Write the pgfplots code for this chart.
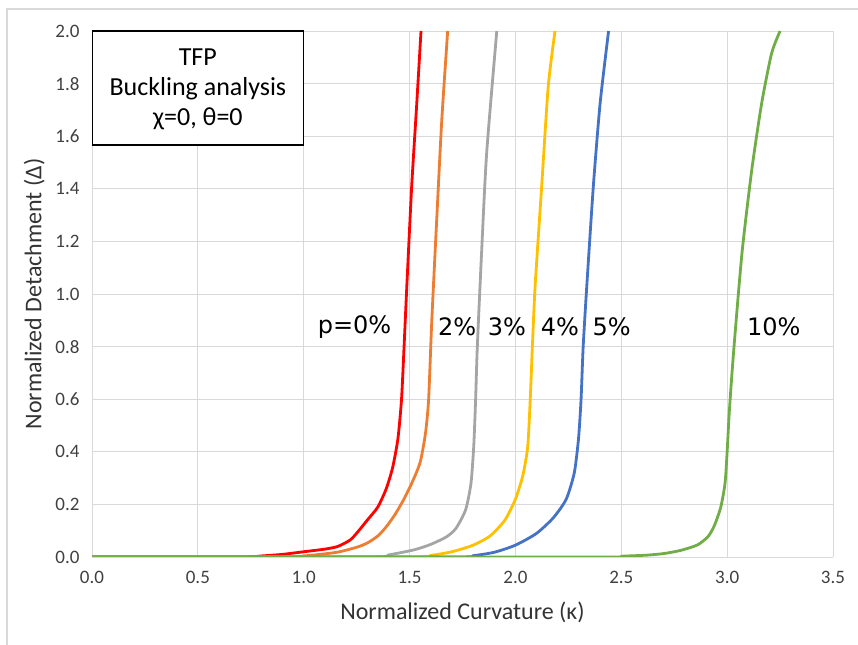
\documentclass[border=0pt]{standalone}
\usepackage{pgfplots}
\pgfplotsset{compat=1.18}
\usepackage{fontspec}
\setmainfont{Carlito}
\newfontfamily\dejavu{DejaVu Sans}
\definecolor{cRed}{HTML}{FF0000}
\definecolor{cOrange}{HTML}{ED7D31}
\definecolor{cGray}{HTML}{A5A5A5}
\definecolor{cYellow}{HTML}{FFC000}
\definecolor{cBlue}{HTML}{4472C4}
\definecolor{cGreen}{HTML}{70AD47}
\definecolor{gridc}{HTML}{D9D9D9}
\begin{document}
\begin{tikzpicture}
\useasboundingbox (0,0) rectangle (858bp,645bp);
\draw[gridc, line width=1.2bp] (7bp,0) -- (7bp,636bp) -- (858bp,636bp);
\begin{axis}[
  at={(92bp,88bp)}, anchor=south west,
  scale only axis, width=741bp, height=526bp,
  xmin=0, xmax=3.5, ymin=0, ymax=2,
  grid=major, grid style={gridc, line width=0.9bp},
  axis x line*=bottom, axis y line*=left,
  x axis line style={gridc, line width=0.9bp, -},
  y axis line style={draw=none, -},
  major tick length=0pt,
  tick label style={font=\fontsize{19bp}{21bp}\selectfont, text=black!75},
  ytick={0,0.2,0.4,0.6,0.8,1.0,1.2,1.4,1.6,1.8,2.0},
  yticklabels={0.0,0.2,0.4,0.6,0.8,1.0,1.2,1.4,1.6,1.8,2.0},
  xtick={0,0.5,1.0,1.5,2.0,2.5,3.0,3.5},
  xticklabels={0.0,0.5,1.0,1.5,2.0,2.5,3.0,3.5},
  xticklabel style={yshift=-11bp},
  yticklabel style={xshift=-9bp},
  xlabel={Normalized Curvature (κ)},
  ylabel={Normalized Detachment (Δ)},
  label style={font=\fontsize{24bp}{28bp}\selectfont, text=black!80},
  xlabel style={yshift=-11bp},
  ylabel style={yshift=4bp},
  clip=true,
  every axis plot/.append style={line width=2.8bp, line join=round, smooth, tension=0.4},
]
\addplot[cRed] coordinates {(0,0) (0.7,0) (0.8,0.004) (0.9,0.01) (1.0,0.02) (1.1,0.03) (1.16,0.04) (1.22,0.065) (1.26,0.1) (1.3,0.14) (1.35,0.19) (1.39,0.26) (1.42,0.34) (1.445,0.45) (1.462,0.6) (1.474,0.8) (1.487,1.03) (1.51,1.41) (1.534,1.725) (1.554,2.0)};
\addplot[cOrange] coordinates {(0,0) (0.9,0) (1.0,0.004) (1.1,0.012) (1.17,0.02) (1.25,0.037) (1.3,0.053) (1.35,0.08) (1.39,0.115) (1.43,0.16) (1.47,0.215) (1.51,0.28) (1.55,0.36) (1.575,0.47) (1.59,0.6) (1.605,0.9) (1.628,1.28) (1.652,1.66) (1.68,2.0)};
\addplot[cGray] coordinates {(0,0) (1.3,0) (1.4,0.008) (1.52,0.027) (1.6,0.048) (1.675,0.077) (1.72,0.11) (1.765,0.18) (1.79,0.28) (1.803,0.42) (1.812,0.6) (1.82,0.8) (1.84,1.155) (1.864,1.535) (1.912,2.0)};
\addplot[cYellow] coordinates {(0,0) (1.5,0) (1.6,0.006) (1.7,0.02) (1.8,0.045) (1.88,0.08) (1.95,0.14) (2.0,0.22) (2.035,0.31) (2.058,0.42) (2.07,0.6) (2.08,0.8) (2.093,1.03) (2.124,1.41) (2.155,1.79) (2.187,2.0)};
\addplot[cBlue] coordinates {(0,0) (1.7,0) (1.8,0.005) (1.9,0.018) (2.0,0.045) (2.1,0.09) (2.18,0.15) (2.24,0.22) (2.278,0.32) (2.298,0.45) (2.31,0.6) (2.32,0.8) (2.337,1.03) (2.368,1.41) (2.40,1.725) (2.44,2.0)};
\addplot[cGreen] coordinates {(0,0) (2.4,0) (2.5,0.003) (2.62,0.007) (2.7,0.013) (2.78,0.025) (2.86,0.046) (2.91,0.078) (2.94,0.12) (2.97,0.19) (2.99,0.28) (3.0,0.4) (3.01,0.55) (3.03,0.775) (3.07,1.155) (3.116,1.47) (3.163,1.725) (3.21,1.915) (3.25,2.0)};
\begin{scope}[every node/.style={font=\dejavu\fontsize{24bp}{28bp}\selectfont, text=black}]
\node at (axis cs:1.24,0.875) {p=0\%};
\node at (axis cs:1.725,0.875) {2\%};
\node at (axis cs:1.96,0.875) {3\%};
\node at (axis cs:2.21,0.875) {4\%};
\node at (axis cs:2.455,0.875) {5\%};
\node at (axis cs:3.22,0.875) {10\%};
\end{scope}
\draw[black, line width=1.5bp, fill=white] (axis cs:0,2) rectangle (axis cs:1.0,1.567);
\node[align=center, font=\fontsize{26bp}{30bp}\selectfont, anchor=center] at (axis cs:0.5,1.78) {TFP\\Buckling analysis\\χ=0, θ=0};
\end{axis}
\end{tikzpicture}
\end{document}
